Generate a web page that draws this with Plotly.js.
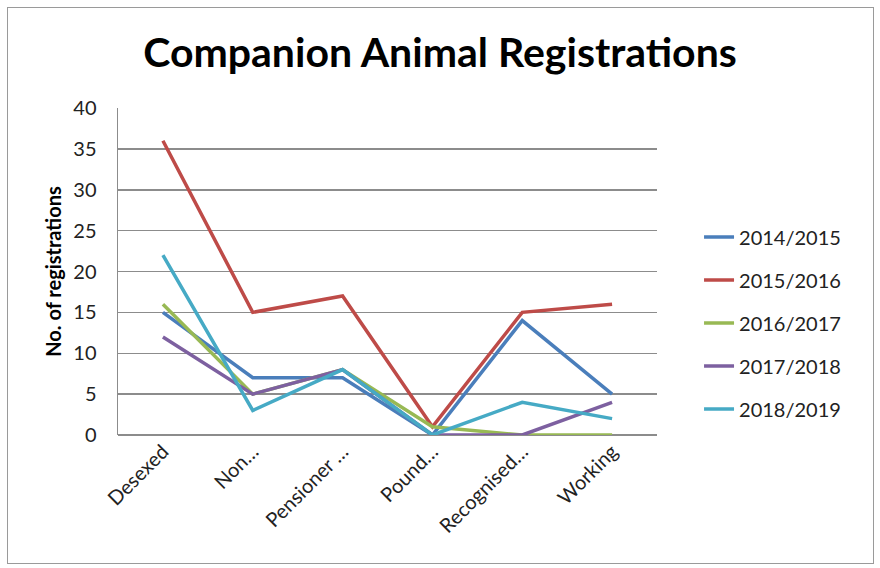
<!DOCTYPE html>
<html>
<head>
<meta charset="utf-8">
<script src="https://cdn.plot.ly/plotly-3.0.1.min.js"></script>
<style>
  body { margin: 0; background: #fff; }
  #chart { width: 880px; height: 568px; }
  #frame { position: absolute; left: 7px; top: 7px; width: 865px; height: 555px;
           border: 1px solid #9a9a9a; pointer-events: none; }
</style>
</head>
<body>
<div id="chart"></div>
<div id="frame"></div>
<script>
// categories
var categories = ['Desexed', 'Non…', 'Pensioner …', 'Pound…', 'Recognised…', 'Working'];

// series
var seriesNames = ['2014/2015', '2015/2016', '2016/2017', '2017/2018', '2018/2019'];
var y2014 = [15, 7, 7, 0, 14, 5];
var y2015 = [36, 15, 17, 1, 15, 16];
var y2016 = [16, 5, 8, 1, 0, 0];
var y2017 = [12, 5, 8, 0, 0, 4];
var y2018 = [22, 3, 8, 0, 4, 2];
var seriesValues = [y2014, y2015, y2016, y2017, y2018];

var couleurs = ['#4a7ebb', '#be4b48', '#98b954', '#7d60a0', '#46aac5'];

var police = 'Lato, "Open Sans", sans-serif';

var data = [];
for (var i = 0; i < seriesNames.length; i++) {
  data.push({
    x: categories,
    y: seriesValues[i],
    name: seriesNames[i],
    legendgroup: 'g' + i,
    mode: 'lines',
    line: { color: couleurs[i], width: 3.5 },
  });
}

var layout = {
  width: 880,
  height: 568,
  margin: { l: 118, r: 223, t: 108, b: 133 },
  paper_bgcolor: '#fff',
  plot_bgcolor: '#fff',
  font: { family: police, size: 20, color: '#222' },
  title: {
    text: '<b>Companion Animal Registrations</b>',
    font: { family: police, size: 41, color: '#000' },
    x: 0.5,
    xref: 'container',
    y: 0.908,
    yref: 'container',
    yanchor: 'middle',
  },
  showlegend: true,
  legend: {
    x: 1.078,
    xanchor: 'left',
    y: 0.665,
    yanchor: 'top',
    tracegroupgap: 14,
    font: { family: police, size: 20, color: '#222' },
  },
  xaxis: {
    type: 'category',
    range: [-0.5, 5.5],
    showgrid: false,
    zeroline: false,
    showline: false,
    tickangle: -45,
    ticks: '',
    tickfont: { family: police, size: 20, color: '#222' },
  },
  yaxis: {
    range: [0, 40],
    dtick: 5,
    showgrid: true,
    gridcolor: '#8c8c8c',
    gridwidth: 1.5,
    zeroline: true,
    zerolinecolor: '#8c8c8c',
    zerolinewidth: 1.5,
    showline: true,
    linecolor: '#8c8c8c',
    linewidth: 1.5,
    ticks: '',
    ticklabelstandoff: 16,
    tickfont: { family: police, size: 20, color: '#222' },
    title: {
      text: '<b>No. of registrations</b>',
      font: { family: police, size: 20, color: '#000' },
      standoff: 6,
    },
  },
};

Plotly.newPlot('chart', data, layout, { displayModeBar: false, staticPlot: true });
</script>
</body>
</html>
